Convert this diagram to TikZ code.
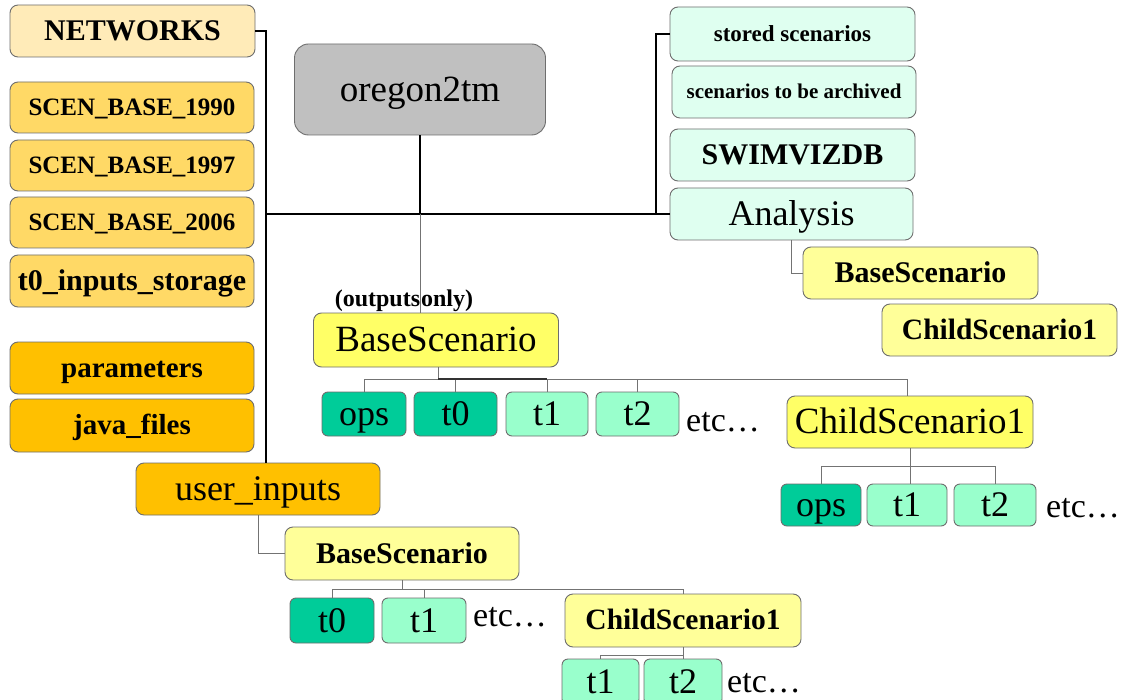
\documentclass[tikz,border=0pt]{standalone}
\usepackage{fontspec}
\setmainfont{Liberation Serif}
\definecolor{netc}{HTML}{FFEBB8}
\definecolor{scenc}{HTML}{FFD966}
\definecolor{orc}{HTML}{FFC000}
\definecolor{grc}{HTML}{C0C0C0}
\definecolor{mintc}{HTML}{DFFFF0}
\definecolor{lyc}{HTML}{FFFF99}
\definecolor{yc}{HTML}{FFFF66}
\definecolor{dgc}{HTML}{00CC99}
\definecolor{lgc}{HTML}{99FFCC}
\definecolor{bordc}{HTML}{6E6E6E}
\newcommand{\fsz}[1]{\fontsize{#1pt}{#1pt}\selectfont}
\tikzset{
  box/.style={draw=bordc, line width=0.9pt, rounded corners=8pt, inner sep=0pt, align=center},
  sbox/.style={box, rounded corners=6pt},
  fs/.style={font=\fsz{#1}, /utils/exec={\pgfmathsetmacro\mytxh{0.9*#1}\pgfmathsetmacro\mytxd{0.26*#1}}, text height=\mytxh pt, text depth=\mytxd pt},
  fsb/.style={fs=#1, font=\fsz{#1}\bfseries},
  thickln/.style={draw=black, line width=2pt},
  thinln/.style={draw=black!55, line width=0.9pt},
  etcs/.style={anchor=base west, inner sep=0pt, font=\fsz{34}}
}
\begin{document}
\begin{tikzpicture}[x=1pt,y=-1pt]
\useasboundingbox (0,0) rectangle (1123,700);
\clip (0,0) rectangle (1123,700);
\fill[white] (0,0) rectangle (1123,700);
% left column
\node[box, fill=netc, minimum width=245pt, minimum height=52pt, fsb=30] (net) at (132.5,31) {NETWORKS};
\node[box, fill=scenc, minimum width=244pt, minimum height=51pt, fsb=25] (s90) at (132,107.5) {SCEN\_BASE\_1990};
\node[box, fill=scenc, minimum width=244pt, minimum height=51pt, fsb=25] (s97) at (132,165.5) {SCEN\_BASE\_1997};
\node[box, fill=scenc, minimum width=244pt, minimum height=51pt, fsb=25] (s06) at (132,222.5) {SCEN\_BASE\_2006};
\node[box, fill=scenc, minimum width=244pt, minimum height=52pt, fsb=30] (t0s) at (132,281) {t0\_inputs\_storage};
\node[box, fill=orc, minimum width=244pt, minimum height=52pt, fsb=29] (par) at (132,368) {parameters};
\node[box, fill=orc, minimum width=244pt, minimum height=53pt, fsb=29] (jav) at (132,425.5) {java\_files};
\node[box, fill=orc, minimum width=244pt, minimum height=52pt, fs=36] (usr) at (258,489) {user\_inputs};
% top centre
\node[box, fill=grc, rounded corners=14pt, minimum width=251pt, minimum height=91pt, fs=37] (ore) at (420,89.5) {oregon2tm};
% right column
\node[box, fill=mintc, minimum width=245pt, minimum height=54pt, fsb=23] (sto) at (792.5,34) {stored scenarios};
\node[box, fill=mintc, minimum width=244pt, minimum height=52pt, fsb=21] (arc) at (794,92) {scenarios to be archived};
\node[box, fill=mintc, minimum width=245pt, minimum height=52pt, fsb=30] (swm) at (792.5,155) {SWIMVIZDB};
\node[box, fill=mintc, minimum width=243pt, minimum height=52pt, fs=36] (ana) at (791.5,214) {Analysis};
\node[box, fill=lyc, minimum width=235pt, minimum height=52pt, fsb=30] (rbs) at (920.5,273) {BaseScenario};
\node[box, fill=lyc, minimum width=235pt, minimum height=52pt, fsb=29.5] (rcs) at (999.5,330) {ChildScenario1};
% middle tree
\node[anchor=base, inner sep=0pt, font=\fsz{24}\bfseries] (oo) at (404,306) {(outputs\hspace{1pt}only)};
\node[box, fill=yc, minimum width=245pt, minimum height=54pt, fs=37] (mbs) at (436,340) {BaseScenario};
\node[sbox, fill=dgc, minimum width=84pt, minimum height=44pt, fs=36] (mops) at (364,414) {ops};
\node[sbox, fill=dgc, minimum width=83pt, minimum height=44pt, fs=36] (mt0) at (455.5,414) {t0};
\node[sbox, fill=lgc, minimum width=82pt, minimum height=44pt, fs=36] (mt1) at (547,414) {t1};
\node[sbox, fill=lgc, minimum width=83pt, minimum height=44pt, fs=36] (mt2) at (637.5,414) {t2};
\node[etcs] (metc) at (686,431) {etc\ldots};
\node[box, fill=yc, minimum width=246pt, minimum height=52pt, fs=37] (mcs) at (910,422) {ChildScenario1};
\node[sbox, fill=dgc, minimum width=80pt, minimum height=42pt, fs=36] (cops) at (821,505) {ops};
\node[sbox, fill=lgc, minimum width=80pt, minimum height=42pt, fs=36] (ct1) at (907,505) {t1};
\node[sbox, fill=lgc, minimum width=82pt, minimum height=42pt, fs=36] (ct2) at (995,505) {t2};
\node[etcs] (cetc) at (1046,517) {etc\ldots};
% lower tree
\node[box, fill=lyc, minimum width=234pt, minimum height=53pt, fsb=30] (lbs) at (402,553.5) {BaseScenario};
\node[sbox, fill=dgc, minimum width=84pt, minimum height=45pt, fs=36] (lt0) at (332,620.5) {t0};
\node[sbox, fill=lgc, minimum width=84pt, minimum height=45pt, fs=36] (lt1) at (424,620.5) {t1};
\node[etcs] (letc) at (473,626) {etc\ldots};
\node[box, fill=lyc, minimum width=236pt, minimum height=53pt, fsb=29.5] (lcs) at (683,620.5) {ChildScenario1};
\node[sbox, fill=lgc, minimum width=77pt, minimum height=46pt, fs=36] (lct1) at (600.5,682) {t1};
\node[sbox, fill=lgc, minimum width=78pt, minimum height=46pt, fs=36] (lct2) at (683,682) {t2};
\node[etcs] (lcetc) at (727,692) {etc\ldots};
% junctions
\coordinate (lv) at (266,214);
\coordinate (rv) at (656,214);
\coordinate (mj) at (438,379);
\coordinate (cj) at (910,466);
\coordinate (lj) at (402,589);
\coordinate (lcj) at (683,655);
% thick connectors
\draw[thickln] (net.east) -| (usr.north -| lv);
\draw[thickln] (lv) -- (lv -| ana.west);
\draw[thickln] (ore.south) -- (ore.south |- lv);
\draw[thickln] (sto.west) -| (rv);
% thin connectors
\draw[thinln] (ore.south |- lv) -- (ore.south |- mbs.north);
\draw[thinln] (mj |- mbs.south) -- (mj);
\draw[thinln] (mops.north) |- ([xshift=-3pt]mcs.north |- mj) -- ([xshift=-3pt]mcs.north);
\draw[thinln] (mt0.north) -- (mt0.north |- mj);
\draw[thinln] (mt1.north) -- (mt1.north |- mj);
\draw[thinln] (mt2.north) -- (mt2.north |- mj);
\draw[draw=black!80, line width=1.1pt] (mj) -- (mt1.north |- mj);
\draw[thinln] (mcs.south) -- (mcs.south |- ct1.north);
\draw[thinln] (cops.north) |- (ct2.north |- cj) -- (ct2.north);
\draw[thinln] (ana.south) |- (rbs.west);
\draw[thinln] (usr.south) |- (lbs.west);
\draw[thinln] (lbs.south) -- (lj);
\draw[thinln] (lt0.north) |- (lcs.north |- lj) -- (lcs.north);
\draw[thinln] (lt1.north) -- (lt1.north |- lj);
\draw[thinln] (lcs.south) -- (lct2.north);
\draw[thinln] (lct1.north) |- (lcj);
\end{tikzpicture}
\end{document}
